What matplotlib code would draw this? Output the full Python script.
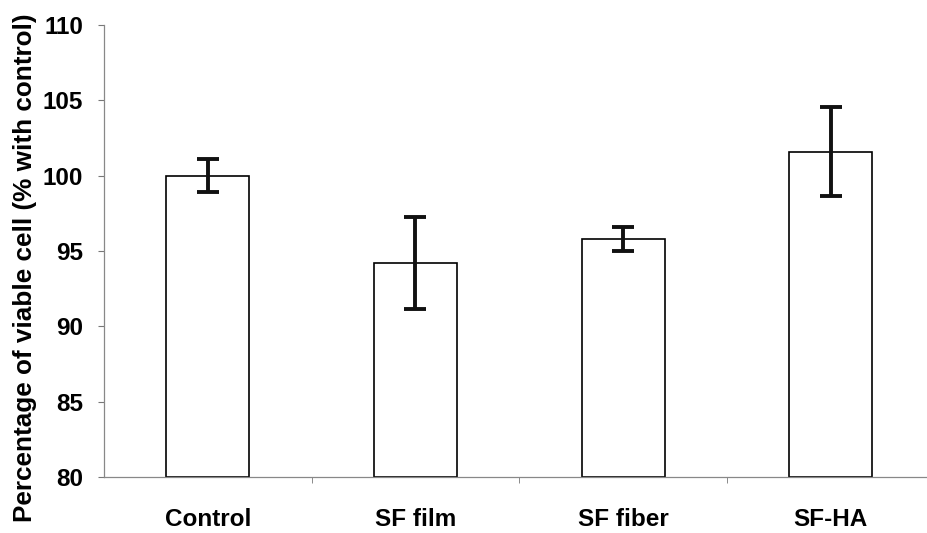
import matplotlib
matplotlib.use("Agg")
import matplotlib.pyplot as plt
from matplotlib.ticker import FixedLocator

categories = ["Control", "SF film", "SF fiber", "SF-HA"]
values = [100.0, 94.2, 95.8, 101.6]
errors = [1.1, 3.05, 0.8, 2.95]
yticks = [80, 85, 90, 95, 100, 105, 110]

plt.rcParams['font.family'] = ['Liberation Sans', 'DejaVu Sans']
fig = plt.figure(figsize=(9.28, 5.33), dpi=100)
ax = fig.add_axes([0.112, 0.105, 0.895, 0.848])

x = list(range(len(categories)))
ax.bar(x, [v - 80 for v in values], bottom=80, width=0.40, color='white',
       edgecolor='black', linewidth=1.2, zorder=2)
ax.errorbar(x, values, yerr=errors, fmt='none', ecolor='#111111',
            elinewidth=2.8, capsize=8, capthick=2.8, zorder=3)

ax.set_ylim(80, 110)
ax.set_xlim(-0.5, 3.5)
ax.set_yticks(yticks)
ax.set_yticklabels([str(t) for t in yticks], fontsize=17.5, fontweight='bold')
ax.set_xticks(x)
ax.set_xticklabels(categories, fontsize=17.5, fontweight='bold')
ax.tick_params(axis='x', which='major', length=0, pad=22)
ax.xaxis.set_minor_locator(FixedLocator([0.5, 1.5, 2.5]))
ax.tick_params(axis='x', which='minor', length=4, color='#777777')
ax.tick_params(axis='y', length=4, color='#777777', pad=11)

for s in ['top', 'right']:
    ax.spines[s].set_visible(False)
for s in ['left', 'bottom']:
    ax.spines[s].set_color('#888888')
    ax.spines[s].set_linewidth(0.9)

fig.text(25 / 928, 1 - 268 / 533, "Percentage of viable cell (% with control)",
         rotation=90, ha='center', va='center', fontsize=18.8, fontweight='bold')

fig.savefig("out.png", dpi=100)
